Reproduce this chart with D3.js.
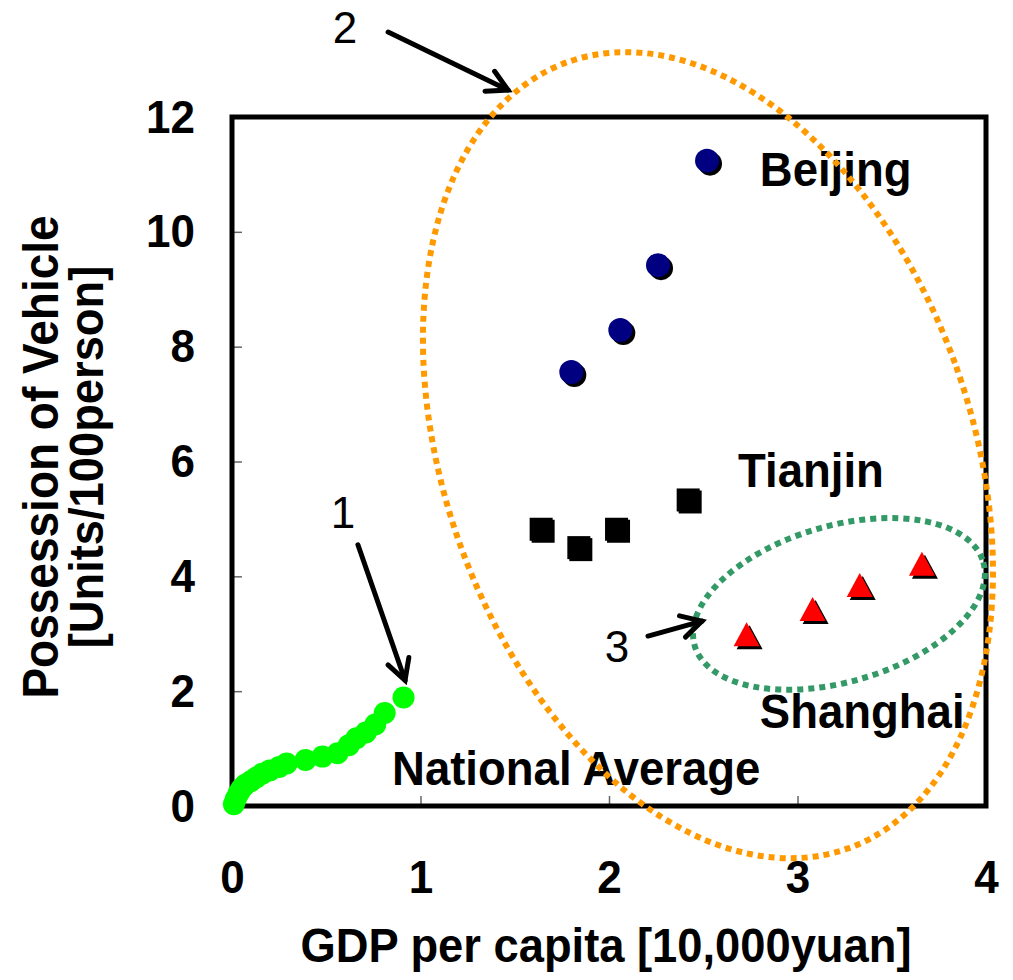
<!DOCTYPE html>
<html><head><meta charset="utf-8">
<script src="https://cdn.jsdelivr.net/npm/d3@7"></script>
<style>
html,body{margin:0;padding:0;background:#fff;}
text{font-family:"Liberation Sans",Arial,sans-serif;}
</style></head>
<body><svg id="chart" width="1013" height="980"></svg>
<script>
// ---- data ----
const nationalX = [0.01,0.02,0.035,0.05,0.07,0.10,0.13,0.16,0.20,0.25,0.29,0.39,0.48,0.56,0.62,0.66,0.71,0.76,0.81,0.91];
const nationalY = [0.03,0.12,0.22,0.30,0.37,0.43,0.50,0.56,0.62,0.68,0.74,0.80,0.86,0.92,1.06,1.18,1.28,1.42,1.62,1.89];
const beijingX = [1.80, 2.06, 2.26, 2.52];
const beijingY = [7.56, 8.29, 9.42, 11.24];
const tianjinX = [1.64, 1.84, 2.04, 2.42];
const tianjinY = [4.82, 4.50, 4.82, 5.33];
const shanghaiX = [2.73, 3.08, 3.33, 3.66];
const shanghaiY = [2.99, 3.43, 3.85, 4.22];
const xTicks = [0,1,2,3,4];
const yTicks = [0,2,4,6,8,10,12];
const seriesLabels = ["Beijing","Tianjin","Shanghai","National Average"];
const xTitle = "GDP per capita [10,000yuan]";
const yTitle = ["Possession of Vehicle","[Units/100person]"];
const annotationLabels = ["1","2","3"];

// ---- layout ----
const svg = d3.select("#chart");
const x = d3.scaleLinear().domain([0,4]).range([232,986]);
const y = d3.scaleLinear().domain([0,12]).range([806,117]);
const FONT = '"Liberation Sans",Arial,sans-serif';

// make bold text slightly taller while keeping its width (condensed look)
function condense(sel, k){
  sel.each(function(){
    const el = d3.select(this);
    const w = this.getComputedTextLength();
    const fs = parseFloat(el.attr("font-size"));
    el.attr("font-size", fs*k).attr("textLength", w).attr("lengthAdjust","spacingAndGlyphs");
  });
}

// axes (ticks inward)
const yAxis = d3.axisLeft(y).tickValues(yTicks).tickSize(-10).tickPadding(37).tickFormat(d3.format("d"));
const gy = svg.append("g").attr("transform",`translate(${x(0)},0)`).call(yAxis);
const xAxis = d3.axisBottom(x).tickValues(xTicks).tickSize(-10).tickPadding(54).tickFormat(d3.format("d"));
const gx = svg.append("g").attr("transform",`translate(0,${y(0)})`).call(xAxis);
[gx,gy].forEach(g=>{
  g.select(".domain").remove();
  g.selectAll(".tick line").attr("stroke","#666").attr("stroke-width",1.5);
  g.selectAll(".tick text").attr("font-family",FONT).attr("font-weight","bold").attr("font-size",44).attr("fill","#000");
  condense(g.selectAll(".tick text"),1.07);
});

// frame
svg.append("rect").attr("x",x(0)).attr("y",y(12)).attr("width",x(4)-x(0)).attr("height",y(0)-y(12))
  .attr("fill","none").attr("stroke","#000").attr("stroke-width",5);

// axis titles
const xt = svg.append("text").attr("x",606).attr("y",962).attr("text-anchor","middle")
  .attr("font-family",FONT).attr("font-weight","bold").attr("font-size",45.3).text(xTitle);
condense(xt,1.07);
const ytPos = [[58,16],[103,16]];
yTitle.forEach((t,i)=>{
  const tt = svg.append("text").attr("transform",`translate(${ytPos[i][0]-16},457) rotate(-90)`).attr("text-anchor","middle")
    .attr("dy",ytPos[i][1]).attr("font-family",FONT).attr("font-weight","bold").attr("font-size",i===0?46:45.3).text(t);
  condense(tt,1.07);
});

// national average
svg.append("g").selectAll("circle").data(nationalX.map((d,i)=>[d,nationalY[i]])).join("circle")
  .attr("cx",d=>x(d[0])).attr("cy",d=>y(d[1])).attr("r",11).attr("fill","#00ff00");

// beijing (with shadow)
const bj = beijingX.map((d,i)=>[d,beijingY[i]]);
svg.append("g").selectAll("circle").data(bj).join("circle")
  .attr("cx",d=>x(d[0])+3).attr("cy",d=>y(d[1])+3).attr("r",12).attr("fill","#000");
svg.append("g").selectAll("circle").data(bj).join("circle")
  .attr("cx",d=>x(d[0])).attr("cy",d=>y(d[1])).attr("r",12).attr("fill","#000080");

// tianjin squares
const tj = tianjinX.map((d,i)=>[d,tianjinY[i]]);
const S = 23;
svg.append("g").selectAll("rect").data(tj).join("rect")
  .attr("x",d=>x(d[0])-S/2+2).attr("y",d=>y(d[1])-S/2+2).attr("width",S).attr("height",S).attr("fill","#000");
svg.append("g").selectAll("rect").data(tj).join("rect")
  .attr("x",d=>x(d[0])-S/2).attr("y",d=>y(d[1])-S/2).attr("width",S).attr("height",S).attr("fill","#000");

// shanghai triangles
const sh = shanghaiX.map((d,i)=>[d,shanghaiY[i]]);
const tri = (cx,cy)=>`M${cx},${cy-12}L${cx+13},${cy+12}L${cx-13},${cy+12}Z`;
svg.append("g").selectAll("path").data(sh).join("path")
  .attr("d",d=>tri(x(d[0])+3,y(d[1])+3)).attr("fill","#000");
svg.append("g").selectAll("path").data(sh).join("path")
  .attr("d",d=>tri(x(d[0]),y(d[1]))).attr("fill","#ff0000");

// series labels
const labelPos = [[2.80,10.80],[2.685,5.56],[2.80,1.36],[0.849,0.37]];
const sl = svg.append("g").selectAll("text").data(seriesLabels).join("text")
  .attr("x",(d,i)=>x(labelPos[i][0])).attr("y",(d,i)=>y(labelPos[i][1]))
  .attr("font-family",FONT).attr("font-weight","bold").attr("font-size",45.5).text(d=>d);
condense(sl,1.07);

// ellipses (annotation groups)
const ellipses = [
  {cx:2.525, cy:6.11, rx:1.398, ry:7.27, rot:-19.6, color:"#ff9900"},
  {cx:3.22, cy:3.52, rx:0.797, ry:1.36, rot:-16.1, color:"#339966"}
];
svg.append("g").selectAll("ellipse").data(ellipses).join("ellipse")
  .attr("cx",0).attr("cy",0)
  .attr("rx",d=>x(d.rx)-x(0)).attr("ry",d=>y(0)-y(d.ry))
  .attr("transform",d=>`translate(${x(d.cx)},${y(d.cy)}) rotate(${d.rot})`)
  .attr("fill","none").attr("stroke",d=>d.color).attr("stroke-width",6).attr("stroke-dasharray","6,5");

// arrows
const arrows = [
  {x1:0.668,y1:4.55,x2:0.918,y2:2.19},
  {x1:0.828,y1:13.48,x2:1.464,y2:12.47},
  {x1:2.207,y1:2.96,x2:2.493,y2:3.22}
];
const ag = svg.append("g").attr("stroke","#000").attr("stroke-width",5).attr("fill","none")
  .attr("stroke-linecap","round").attr("stroke-linejoin","miter");
arrows.forEach(a=>{
  const X1=x(a.x1),Y1=y(a.y1),X2=x(a.x2),Y2=y(a.y2);
  ag.append("line").attr("x1",X1).attr("y1",Y1).attr("x2",X2).attr("y2",Y2);
  const ang=Math.atan2(Y2-Y1,X2-X1), L=23, w=0.5;
  const p1=[X2-L*Math.cos(ang-w),Y2-L*Math.sin(ang-w)];
  const p2=[X2-L*Math.cos(ang+w),Y2-L*Math.sin(ang+w)];
  ag.append("path").attr("d",`M${p1[0]},${p1[1]}L${X2},${Y2}L${p2[0]},${p2[1]}`);
});
const annPos = [[0.589,4.84],[0.60,13.29],[2.042,2.51]];
svg.append("g").selectAll("text").data(annotationLabels).join("text")
  .attr("x",(d,i)=>x(annPos[i][0])).attr("y",(d,i)=>y(annPos[i][1])).attr("text-anchor","middle")
  .attr("font-family",FONT).attr("font-size",44).text(d=>d);
</script></body></html>
